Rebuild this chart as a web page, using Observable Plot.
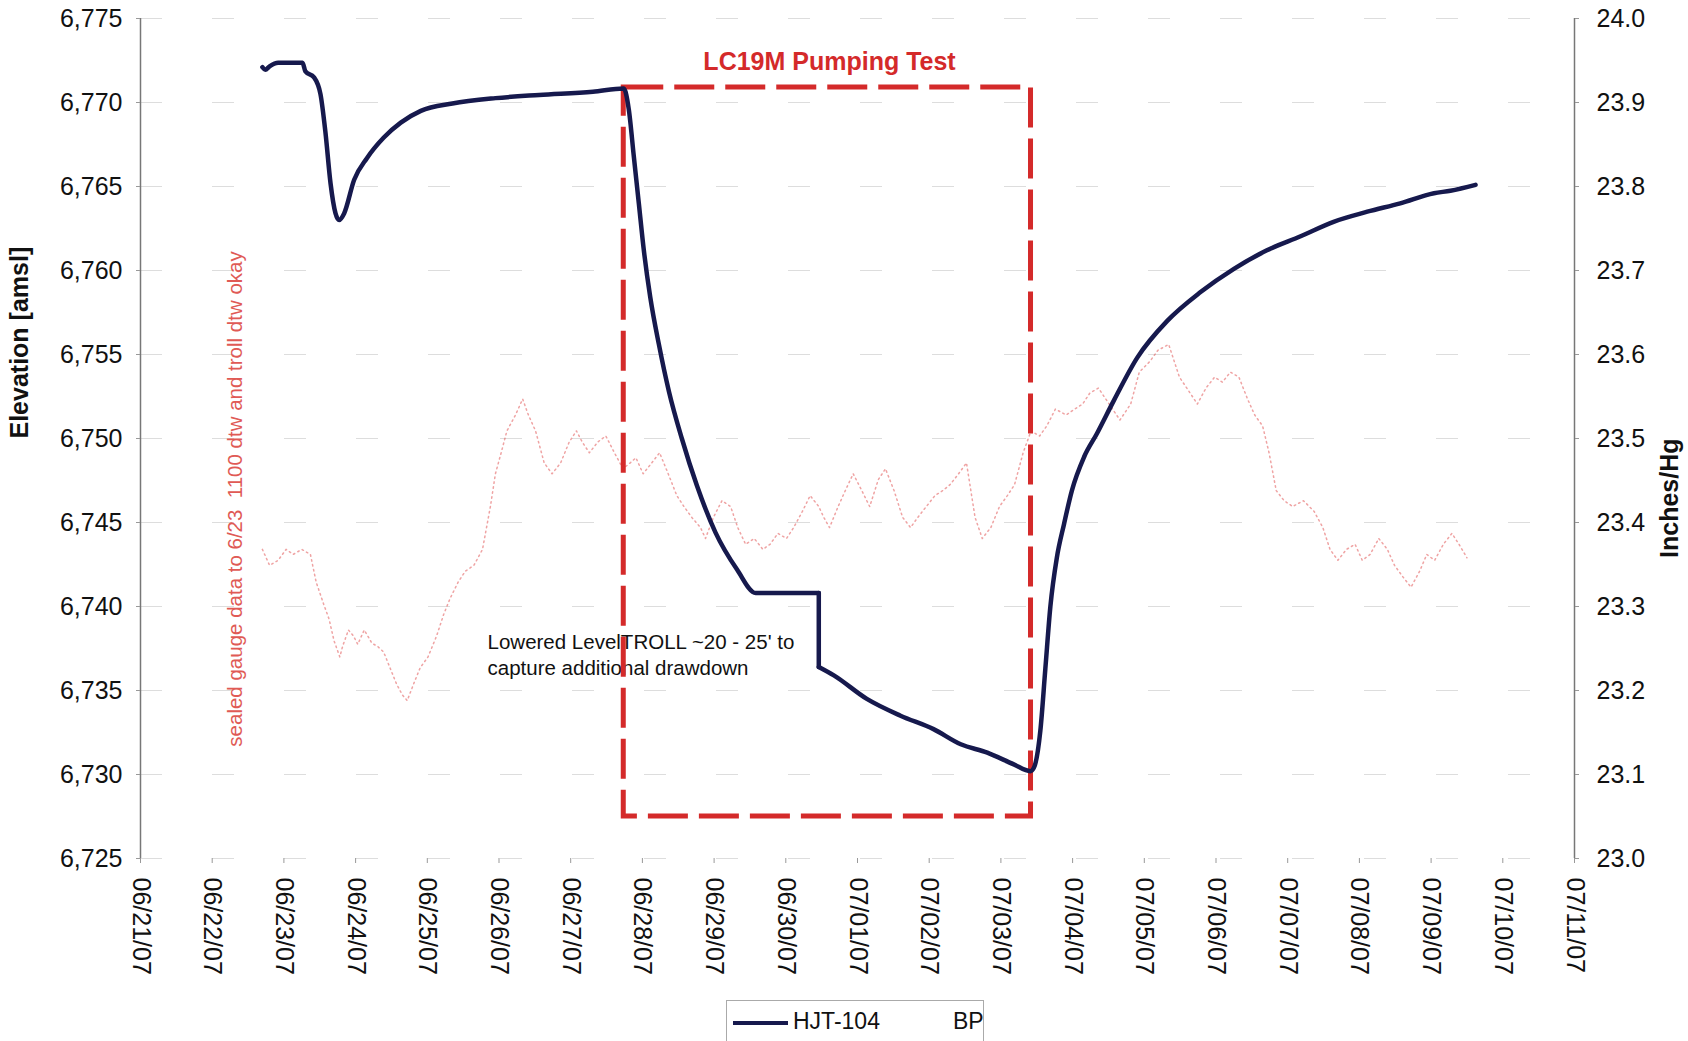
<!DOCTYPE html>
<html>
<head>
<meta charset="utf-8">
<script src="https://cdn.jsdelivr.net/npm/d3@7"></script>
<script src="https://cdn.jsdelivr.net/npm/@observablehq/plot@0.6"></script>
<style>
  body { margin: 0; background: #fff; font-family: "Liberation Sans", Arial, sans-serif; }
  #wrap { position: relative; width: 1688px; height: 1041px; overflow: hidden; background: #fff; }
  #legend { position: absolute; left: 726px; top: 1000px; width: 258px; height: 60px;
            border: 1px solid #aaa; border-bottom: none; box-sizing: border-box; }
  #legend .sw { position: absolute; left: 6px; top: 20px; width: 55px; height: 4px; background: #16194d; }
  #legend .t1 { position: absolute; left: 66px; top: 7px; font-size: 23px; color: #111; }
  #legend .t2 { position: absolute; left: 226px; top: 7px; font-size: 23px; color: #111; }
</style>
</head>
<body>
<div id="wrap">
  <div id="chart"></div>
  <div id="legend"><div class="sw"></div><div class="t1">HJT-104</div><div class="t2">BP</div></div>
</div>
<script>
// ---- data (days after 06/21/07 00:00) ----
const seriesNames = ["HJT-104", "BP"];
const hjtDay = [1.70, 1.74, 1.80, 1.92, 2.26, 2.30, 2.42, 2.51, 2.58, 2.65, 2.72, 2.77, 2.84, 2.98, 3.16, 3.39, 3.63, 3.91, 4.35, 4.95, 5.56, 6.31, 6.74,
  6.81, 6.88, 6.95, 7.02, 7.11, 7.23, 7.37, 7.55, 7.76, 8.02, 8.32, 8.58, 9.46, 9.46, 9.67, 10.13, 10.60, 11.06, 11.44, 11.81, 12.18, 12.41, 12.46,
  12.55, 12.62, 12.69, 12.78, 12.88, 12.99, 13.16, 13.34, 13.58, 13.90, 14.32, 14.78, 15.25, 15.71, 16.18, 16.64, 17.11, 17.57, 18.04, 18.27, 18.62];
const hjtElev = [6772.10, 6771.95, 6772.15, 6772.36, 6772.36, 6771.85, 6771.50, 6770.50, 6768.20, 6765.20, 6763.40, 6763.00, 6763.40, 6765.40, 6766.70, 6767.90, 6768.80, 6769.50, 6769.94, 6770.26, 6770.45, 6770.64, 6770.83,
  6769.6, 6766.8, 6764.0, 6761.2, 6758.4, 6755.6, 6752.8, 6750.0, 6747.2, 6744.4, 6742.2, 6740.8, 6740.8, 6736.4, 6735.9, 6734.5, 6733.5, 6732.7, 6731.8, 6731.3, 6730.6, 6730.2, 6730.4,
  6732.6, 6736.3, 6740.0, 6742.9, 6744.9, 6746.9, 6748.9, 6750.3, 6752.3, 6754.8, 6757.0, 6758.7, 6760.1, 6761.2, 6762.04, 6762.9, 6763.5, 6764.0, 6764.6, 6764.75, 6765.1];
// the LevelTROLL was lowered at this reading (vertical step in the record)
const hjtStepDay = 9.46;

const bpDay = [1.70, 1.80, 1.92, 2.03, 2.13, 2.25, 2.37, 2.45, 2.55, 2.63, 2.70, 2.78, 2.82, 2.90, 2.97, 3.03, 3.12, 3.23, 3.30, 3.39, 3.48, 3.57, 3.65, 3.72,
  3.81, 3.90, 4.01, 4.13, 4.23, 4.32, 4.43, 4.53, 4.65, 4.77, 4.88, 4.95, 5.03, 5.11, 5.23, 5.33, 5.41, 5.51, 5.63, 5.74, 5.86, 5.98, 6.08, 6.16, 6.26, 6.38,
  6.49, 6.61, 6.73, 6.83, 6.91, 7.01, 7.13, 7.24, 7.36, 7.48, 7.58, 7.69, 7.81, 7.88, 7.99, 8.11, 8.23, 8.33, 8.44, 8.56, 8.68, 8.78, 8.89, 9.01, 9.11, 9.23,
  9.34, 9.46, 9.53, 9.61, 9.73, 9.83, 9.94, 10.06, 10.17, 10.29, 10.39, 10.51, 10.63, 10.74, 10.84, 10.96, 11.08, 11.19, 11.29, 11.41, 11.52, 11.64, 11.74,
  11.86, 11.98, 12.09, 12.19, 12.31, 12.42, 12.54, 12.64, 12.76, 12.91, 13.03, 13.14, 13.24, 13.36, 13.51, 13.66, 13.81, 13.93, 14.08, 14.19, 14.34, 14.49,
  14.64, 14.74, 14.86, 14.98, 15.09, 15.20, 15.32, 15.44, 15.54, 15.65, 15.74, 15.84, 15.95, 16.07, 16.22, 16.37, 16.49, 16.59, 16.70, 16.82, 16.94, 17.04,
  17.15, 17.27, 17.39, 17.49, 17.60, 17.72, 17.84, 17.94, 18.05, 18.17, 18.29, 18.39, 18.50];
const bpInHg = [23.368, 23.349, 23.355, 23.368, 23.362, 23.368, 23.362, 23.329, 23.304, 23.285, 23.259, 23.240, 23.253, 23.272, 23.265, 23.255, 23.272, 23.256, 23.253, 23.246, 23.227, 23.208, 23.195, 23.188,
  23.208, 23.227, 23.240, 23.265, 23.291, 23.310, 23.329, 23.342, 23.349, 23.368, 23.419, 23.458, 23.483, 23.509, 23.528, 23.547, 23.528, 23.509, 23.471, 23.458, 23.471, 23.496, 23.509, 23.496, 23.483, 23.496,
  23.503, 23.483, 23.464, 23.471, 23.477, 23.458, 23.471, 23.483, 23.458, 23.432, 23.419, 23.406, 23.394, 23.381, 23.406, 23.426, 23.419, 23.394, 23.374, 23.381, 23.368, 23.374, 23.387, 23.381, 23.394, 23.413,
  23.432, 23.419, 23.406, 23.394, 23.419, 23.438, 23.458, 23.438, 23.419, 23.451, 23.464, 23.438, 23.406, 23.394, 23.406, 23.419, 23.432, 23.438, 23.445, 23.458, 23.471, 23.406, 23.381,
  23.394, 23.419, 23.432, 23.445, 23.483, 23.509, 23.503, 23.515, 23.535, 23.528, 23.535, 23.541, 23.554, 23.560, 23.541, 23.522, 23.541, 23.579, 23.592, 23.605, 23.612, 23.573,
  23.554, 23.541, 23.560, 23.573, 23.567, 23.579, 23.573, 23.547, 23.528, 23.515, 23.483, 23.438, 23.426, 23.419, 23.426, 23.413, 23.394, 23.368, 23.355, 23.368, 23.374, 23.355,
  23.362, 23.381, 23.368, 23.349, 23.336, 23.323, 23.342, 23.362, 23.355, 23.374, 23.387, 23.374, 23.358];

const elevDomain = [6725, 6775];
const inHgDomain = [23.0, 24.0];
const elevTicks = [6725, 6730, 6735, 6740, 6745, 6750, 6755, 6760, 6765, 6770, 6775];
const inHgTicks = [23.0, 23.1, 23.2, 23.3, 23.4, 23.5, 23.6, 23.7, 23.8, 23.9, 24.0];
const xTickLabels = ["06/21/07", "06/22/07", "06/23/07", "06/24/07", "06/25/07", "06/26/07", "06/27/07", "06/28/07", "06/29/07", "06/30/07",
  "07/01/07", "07/02/07", "07/03/07", "07/04/07", "07/05/07", "07/06/07", "07/07/07", "07/08/07", "07/09/07", "07/10/07", "07/11/07"];

// pumping test window (days) and elevation bounds of the box
const pumpStartDay = 6.74, pumpEndDay = 12.42;
const pumpTop = 6770.9, pumpBottom = 6727.5;

// annotation anchors (data coordinates)
const titleText = "LC19M Pumping Test";
const titleAt = [9.61, 6772.4];
const noteText = "Lowered LevelTROLL ~20 - 25' to\ncapture additional drawdown";
const noteAt = [4.84, 6737.2];
const sealedText = "sealed gauge data to 6/23  1100 dtw and troll dtw okay";
const sealedAt = [1.325, 6746.4];

// ---- build ----
const parseTick = d3.utcParse("%m/%d/%y");
const x0 = parseTick(xTickLabels[0]).getTime();
const toDate = d => new Date(x0 + d * 864e5);
const xTicks = xTickLabels.map(parseTick);
const bpToElev = v => elevDomain[0] + (v - inHgDomain[0]) * (elevDomain[1] - elevDomain[0]) / (inHgDomain[1] - inHgDomain[0]);
const elevToBp = e => inHgDomain[0] + (e - elevDomain[0]) * (inHgDomain[1] - inHgDomain[0]) / (elevDomain[1] - elevDomain[0]);

// split HJT record into smooth pieces: before step, the step itself, after step
const stepIdx = hjtDay.indexOf(hjtStepDay);
const hjt = [];
hjtDay.forEach((d, i) => {
  const p = {date: toDate(d), elev: hjtElev[i], series: seriesNames[0]};
  if (i <= stepIdx) hjt.push({...p, seg: "a"});
  if (i === stepIdx || i === stepIdx + 1) hjt.push({...p, seg: "b"});
  if (i >= stepIdx + 1) hjt.push({...p, seg: "c"});
});
const bp = bpDay.map((d, i) => ({date: toDate(d), elev: bpToElev(bpInHg[i]), series: seriesNames[1]}));
const box = [{x1: toDate(pumpStartDay), x2: toDate(pumpEndDay), y1: pumpBottom, y2: pumpTop}];

const font = "Liberation Sans, Arial, sans-serif";

const chart = Plot.plot({
  width: 1688,
  height: 992,
  marginTop: 18,
  marginBottom: 134,
  marginLeft: 140,
  marginRight: 114,
  style: {fontFamily: font, fontSize: "25px", color: "#111", background: "#fff", overflow: "visible"},
  x: {type: "utc", domain: [xTicks[0], xTicks[xTicks.length - 1]]},
  y: {domain: elevDomain},
  marks: [
    Plot.gridY(elevTicks, {stroke: "#666", strokeOpacity: 0.22, strokeDasharray: "22,50"}),
    Plot.ruleX([xTicks[0], xTicks[xTicks.length - 1]], {stroke: "#777", strokeWidth: 1.5}),
    Plot.axisY(elevTicks, {anchor: "left", tickFormat: d3.format(","), tickSize: 4, tickPadding: 14, label: null, fontSize: 25, stroke: "#999"}),
    Plot.axisY(inHgTicks.map(bpToElev), {anchor: "right", tickFormat: e => elevToBp(e).toFixed(1), tickSize: 4, tickPadding: 18, label: null, fontSize: 25, stroke: "#999"}),
    Plot.axisX(xTicks, {tickFormat: d3.utcFormat("%m/%d/%y"), tickRotate: 90, tickSize: 5, tickPadding: 14, label: null, fontSize: 25, stroke: "#999"}),
    Plot.text(["Elevation [amsl]"], {frameAnchor: "left", dx: -121, rotate: -90, fontWeight: "bold", fontSize: 25, fill: "#111"}),
    Plot.text(["Inches/Hg"], {frameAnchor: "right", dx: 95, rotate: -90, fontWeight: "bold", fontSize: 25, fill: "#111"}),
    Plot.line(bp, {x: "date", y: "elev", stroke: "#e04848", strokeWidth: 1.5, strokeOpacity: 0.5, strokeDasharray: "1.5,3.5"}),
    Plot.text([sealedText], {x: () => toDate(sealedAt[0]), y: () => sealedAt[1], rotate: -90, fontSize: 20.5, fill: "#e05a55"}),
    Plot.text([noteText], {x: () => toDate(noteAt[0]), y: () => noteAt[1], textAnchor: "start", lineAnchor: "middle", lineHeight: 1.28, fontSize: 20.5, fill: "#111"}),
    Plot.rect(box, {x1: "x1", x2: "x2", y1: "y1", y2: "y2", fill: "none", stroke: "#d42a2a", strokeWidth: 5, strokeDasharray: "40,11"}),
    Plot.text([titleText], {x: () => toDate(titleAt[0]), y: () => titleAt[1], fontWeight: "bold", fontSize: 25, fill: "#d42a2a"}),
    Plot.line(hjt, {x: "date", y: "elev", z: "seg", curve: "monotone-x", stroke: "#16194d", strokeWidth: 4.5, strokeLinejoin: "round", strokeLinecap: "round"})
  ]
});
document.getElementById("chart").appendChild(chart);
</script>
</body>
</html>
